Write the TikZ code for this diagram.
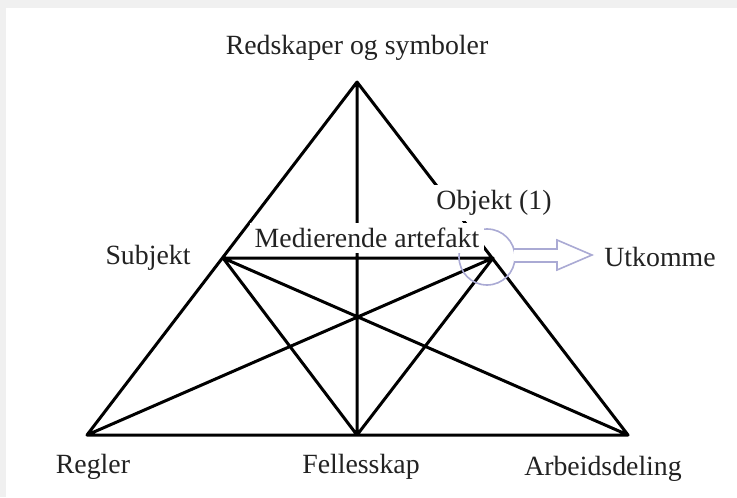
\documentclass[tikz,border=0pt]{standalone}
\usepackage{fontspec}
\setmainfont{Liberation Serif}
\usepackage{tikz}
\usetikzlibrary{calc}
\definecolor{lav}{RGB}{170,170,212}
\definecolor{txt}{RGB}{34,34,34}
\definecolor{frame}{RGB}{240,240,240}

\begin{document}
\begin{tikzpicture}[x=0.5pt,y=-0.5pt,
  edge/.style={line width=1.5pt,line cap=round,line join=round},
  lbl/.style={text=txt,font=\fontsize{13.9}{16}\selectfont,inner sep=1.5pt},
  cover/.style={lbl,fill=white,inner sep=2.5pt}]
\useasboundingbox (0,0) rectangle (737,497);
\fill[frame] (0,0) rectangle (737,497);
\fill[white] (6,8) rectangle (737,497);
% corners of the triangle
\coordinate (top) at (357,82);
\coordinate (subj) at (223,258);
\coordinate (obj) at (493,258);
\coordinate (regl) at (87,435);
\coordinate (felles) at (357,435);
\coordinate (arb) at (628,435);
\draw[edge]
(top) -- (regl)
(top) -- (arb)
(top) -- (felles)
(subj) -- (obj)
(regl) -- (arb)
(subj) -- (felles)
(obj) -- (felles)
(subj) -- (arb)
(obj) -- (regl);
% ring round the object and the outcome arrow
\draw[lav,line width=0.8pt] (487,257) circle [radius=28];
\draw[lav,line width=0.8pt,fill=white]
(514,249) -- (557,249) -- (557,240) -- (592,255)
-- (557,270) -- (557,262) -- (514,262);
\node[lbl] (lblTop) at (357,48) {Redskaper og symboler};
\node[cover] (lblObj) at (494,203) {Objekt (1)};
\node[cover] (lblMed) at (367,238) {Medierende artefakt};
\node[lbl] (lblSubj) at (148,258) {Subjekt};
\node[lbl] (lblUt) at (660,257) {Utkomme};
\node[lbl] (lblRegl) at (93,467) {Regler};
\node[lbl] (lblFelles) at (361,467) {Fellesskap};
\node[lbl] (lblArb) at (603,469) {Arbeidsdeling};
\end{tikzpicture}
\end{document}
